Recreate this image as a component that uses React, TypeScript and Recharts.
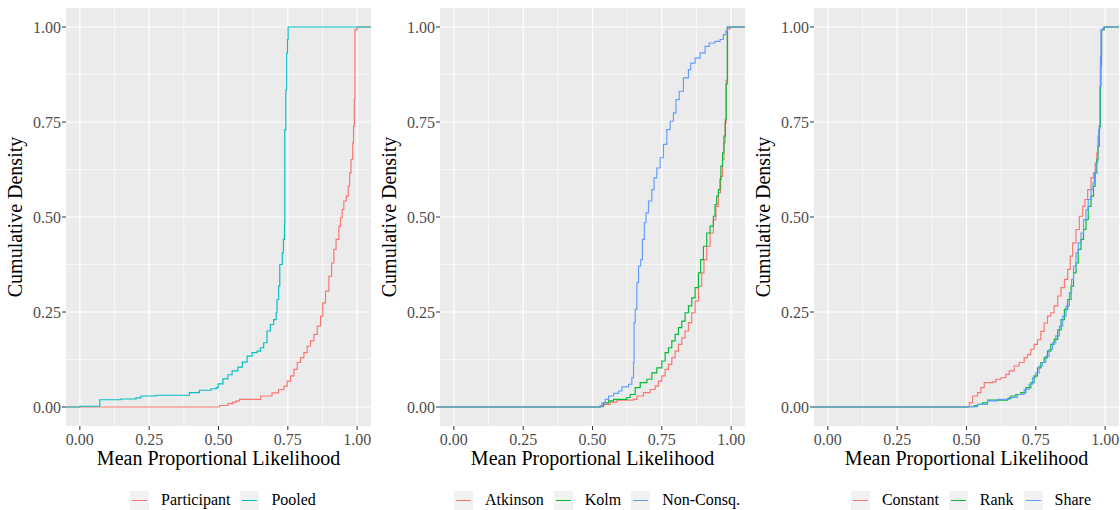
import React from 'react';
import { LineChart, Line, XAxis, YAxis, CartesianGrid, Legend } from 'recharts';

const FONT = '"Liberation Serif", "DejaVu Serif", serif';

const X_TICKS = [0, 0.25, 0.5, 0.75, 1];
const Y_TICKS = [0, 0.25, 0.5, 0.75, 1];
const MINOR_BREAKS = [0.125, 0.375, 0.625, 0.875];
const DOMAIN: [number, number] = [-0.05, 1.05];

const X_TITLE = 'Mean Proportional Likelihood';
const Y_TITLE = 'Cumulative Density';

// Empirical CDF step points: [likelihood, cumulative share]
const participant: [number, number][] = [
  [-0.05, 0], [0.504, 0.004], [0.534, 0.009], [0.552, 0.013], [0.564, 0.016], [0.576, 0.02],
  [0.652, 0.029], [0.693, 0.037], [0.717, 0.046], [0.736, 0.055], [0.748, 0.068], [0.76, 0.082],
  [0.772, 0.099], [0.784, 0.117], [0.796, 0.13], [0.808, 0.143], [0.82, 0.16], [0.832, 0.174],
  [0.844, 0.191], [0.856, 0.213], [0.868, 0.239], [0.876, 0.274], [0.886, 0.305], [0.898, 0.344],
  [0.908, 0.379], [0.916, 0.415], [0.924, 0.441], [0.934, 0.476], [0.94, 0.498], [0.946, 0.52],
  [0.952, 0.542], [0.961, 0.555], [0.968, 0.581], [0.973, 0.616], [0.978, 0.651], [0.984, 0.695],
  [0.987, 0.739], [0.99, 0.809], [0.992, 0.993], [1.0, 1.0], [1.05, 1.0],
];

const pooled: [number, number][] = [
  [-0.05, 0], [0.0, 0.002], [0.072, 0.019], [0.148, 0.021], [0.202, 0.024], [0.22, 0.029],
  [0.275, 0.031], [0.395, 0.038], [0.431, 0.044], [0.473, 0.048], [0.492, 0.051], [0.499, 0.061],
  [0.516, 0.074], [0.534, 0.085], [0.549, 0.095], [0.57, 0.105], [0.586, 0.118], [0.603, 0.134],
  [0.621, 0.143], [0.639, 0.147], [0.651, 0.156], [0.663, 0.169], [0.675, 0.2], [0.687, 0.217],
  [0.699, 0.23], [0.708, 0.248], [0.711, 0.283], [0.717, 0.318], [0.721, 0.375], [0.73, 0.406],
  [0.734, 0.441], [0.738, 0.48], [0.739, 0.73], [0.743, 0.835], [0.746, 0.932], [0.749, 0.967],
  [0.751, 1.0], [1.05, 1.0],
];

const atkinson: [number, number][] = [
  [-0.05, 0], [0.528, 0.001], [0.54, 0.007], [0.564, 0.013], [0.588, 0.018], [0.648, 0.02],
  [0.66, 0.029], [0.684, 0.038], [0.708, 0.046], [0.726, 0.055], [0.738, 0.068], [0.75, 0.082],
  [0.762, 0.099], [0.774, 0.112], [0.786, 0.13], [0.798, 0.147], [0.81, 0.165], [0.822, 0.182],
  [0.834, 0.2], [0.846, 0.222], [0.858, 0.248], [0.87, 0.279], [0.882, 0.318], [0.894, 0.353],
  [0.902, 0.388], [0.912, 0.423], [0.924, 0.458], [0.936, 0.493], [0.945, 0.528], [0.954, 0.564],
  [0.962, 0.607], [0.969, 0.651], [0.974, 0.695], [0.978, 0.748], [0.982, 0.86], [0.987, 0.995],
  [0.996, 1.0], [1.05, 1.0],
];

const kolm: [number, number][] = [
  [-0.05, 0], [0.528, 0.003], [0.54, 0.011], [0.558, 0.016], [0.576, 0.02], [0.624, 0.025],
  [0.636, 0.033], [0.654, 0.051], [0.672, 0.064], [0.696, 0.073], [0.714, 0.09], [0.732, 0.103],
  [0.75, 0.121], [0.762, 0.143], [0.774, 0.156], [0.786, 0.174], [0.798, 0.191], [0.81, 0.209],
  [0.822, 0.226], [0.834, 0.248], [0.846, 0.266], [0.858, 0.287], [0.87, 0.314], [0.882, 0.353],
  [0.89, 0.388], [0.9, 0.423], [0.912, 0.458], [0.924, 0.476], [0.936, 0.502], [0.942, 0.533],
  [0.948, 0.555], [0.954, 0.572], [0.96, 0.599], [0.963, 0.634], [0.969, 0.669], [0.974, 0.713],
  [0.979, 0.756], [0.982, 0.85], [0.986, 1.0], [1.05, 1.0],
];

const nonConsq: [number, number][] = [
  [-0.05, 0], [0.528, 0.004], [0.534, 0.011], [0.546, 0.02], [0.558, 0.029], [0.576, 0.036],
  [0.594, 0.042], [0.606, 0.053], [0.63, 0.06], [0.642, 0.077], [0.648, 0.117], [0.65, 0.222],
  [0.654, 0.257], [0.66, 0.327], [0.666, 0.371], [0.674, 0.388], [0.68, 0.441], [0.687, 0.485],
  [0.693, 0.511], [0.702, 0.542], [0.714, 0.572], [0.722, 0.603], [0.732, 0.629], [0.744, 0.656],
  [0.756, 0.691], [0.768, 0.73], [0.78, 0.752], [0.792, 0.774], [0.801, 0.809], [0.813, 0.831],
  [0.828, 0.866], [0.846, 0.888], [0.854, 0.905], [0.87, 0.918], [0.888, 0.932], [0.906, 0.949],
  [0.921, 0.958], [0.942, 0.962], [0.96, 0.967], [0.972, 0.98], [0.981, 0.989], [0.986, 1.0],
  [1.05, 1.0],
];

const constant: [number, number][] = [
  [-0.05, 0], [0.498, 0.001], [0.51, 0.011], [0.522, 0.029], [0.54, 0.038], [0.552, 0.051],
  [0.564, 0.064], [0.594, 0.066], [0.606, 0.073], [0.624, 0.077], [0.642, 0.086], [0.654, 0.095],
  [0.672, 0.108], [0.69, 0.117], [0.708, 0.13], [0.72, 0.138], [0.732, 0.152], [0.744, 0.165],
  [0.756, 0.177], [0.768, 0.199], [0.78, 0.221], [0.792, 0.239], [0.804, 0.248], [0.816, 0.266],
  [0.829, 0.292], [0.841, 0.314], [0.853, 0.336], [0.865, 0.362], [0.874, 0.397], [0.883, 0.432],
  [0.895, 0.467], [0.907, 0.502], [0.919, 0.528], [0.927, 0.546], [0.937, 0.572], [0.949, 0.603],
  [0.958, 0.616], [0.964, 0.642], [0.97, 0.669], [0.974, 0.713], [0.979, 0.739], [0.983, 0.897],
  [0.987, 0.993], [0.997, 1.0], [1.05, 1.0],
];

const rank: [number, number][] = [
  [-0.05, 0], [0.504, 0.001], [0.528, 0.004], [0.54, 0.007], [0.558, 0.011], [0.576, 0.018],
  [0.648, 0.022], [0.66, 0.029], [0.678, 0.033], [0.696, 0.038], [0.714, 0.051], [0.732, 0.064],
  [0.744, 0.082], [0.756, 0.103], [0.768, 0.117], [0.78, 0.13], [0.792, 0.147], [0.804, 0.165],
  [0.816, 0.178], [0.829, 0.203], [0.841, 0.23], [0.853, 0.257], [0.865, 0.283], [0.877, 0.318],
  [0.886, 0.353], [0.895, 0.379], [0.903, 0.415], [0.913, 0.441], [0.922, 0.467], [0.931, 0.493],
  [0.939, 0.528], [0.949, 0.555], [0.958, 0.581], [0.964, 0.616], [0.97, 0.651], [0.974, 0.686],
  [0.979, 0.739], [0.983, 0.844], [0.985, 0.923], [0.987, 0.993], [0.997, 1.0], [1.05, 1.0],
];

const share: [number, number][] = [
  [-0.05, 0], [0.504, 0.001], [0.54, 0.007], [0.576, 0.016], [0.612, 0.02], [0.654, 0.025],
  [0.684, 0.033], [0.708, 0.046], [0.726, 0.06], [0.738, 0.077], [0.75, 0.09], [0.762, 0.108],
  [0.774, 0.117], [0.786, 0.134], [0.798, 0.152], [0.81, 0.169], [0.822, 0.187], [0.835, 0.213],
  [0.847, 0.239], [0.859, 0.266], [0.871, 0.301], [0.879, 0.336], [0.886, 0.371], [0.895, 0.406],
  [0.903, 0.432], [0.913, 0.458], [0.922, 0.493], [0.931, 0.519], [0.939, 0.546], [0.949, 0.572],
  [0.956, 0.59], [0.961, 0.616], [0.967, 0.642], [0.973, 0.686], [0.977, 0.73], [0.981, 0.844],
  [0.983, 0.923], [0.985, 0.993], [0.991, 0.997], [0.997, 1.0], [1.05, 1.0],
];

type SeriesDef = { name: string; color: string; points: [number, number][] };

const panelSeries: SeriesDef[][] = [
  [
    { name: 'Participant', color: '#F8766D', points: participant },
    { name: 'Pooled', color: '#00BFC4', points: pooled },
  ],
  [
    { name: 'Atkinson', color: '#F8766D', points: atkinson },
    { name: 'Kolm', color: '#00BA38', points: kolm },
    { name: 'Non-Consq.', color: '#619CFF', points: nonConsq },
  ],
  [
    { name: 'Constant', color: '#F8766D', points: constant },
    { name: 'Rank', color: '#00BA38', points: rank },
    { name: 'Share', color: '#619CFF', points: share },
  ],
];

const panelLefts = [0, 374, 748];

const fmt = (v: number) => v.toFixed(2);

const xTitle = (props: any) => {
  const vb = props.viewBox || {};
  return (
    <text
      x={vb.x + vb.width / 2}
      y={vb.y + 38.5}
      textAnchor="middle"
      fontFamily={FONT}
      fontSize={20}
      fill="#000000"
    >
      {X_TITLE}
    </text>
  );
};

const yTitle = (props: any) => {
  const vb = props.viewBox || {};
  const x = vb.x + 21.5;
  const y = vb.y + vb.height / 2;
  return (
    <text
      x={x}
      y={y}
      transform={`rotate(-90, ${x}, ${y})`}
      textAnchor="middle"
      fontFamily={FONT}
      fontSize={20}
      fill="#000000"
    >
      {Y_TITLE}
    </text>
  );
};

function LegendRow({ series }: { series: SeriesDef[] }) {
  return (
    <div
      style={{
        display: 'flex',
        justifyContent: 'center',
        alignItems: 'center',
        height: 20,
        fontFamily: FONT,
        fontSize: 16,
        color: '#000000',
      }}
    >
      {series.map((s, i) => (
        <div key={s.name} style={{ display: 'flex', alignItems: 'center', marginLeft: i ? 10 : 0 }}>
          <div style={{ position: 'relative', width: 19, height: 19, background: '#F2F2F2' }}>
            <div
              style={{
                position: 'absolute',
                left: 2,
                top: 9,
                width: 15,
                height: 1,
                background: s.color,
              }}
            />
          </div>
          <span style={{ marginLeft: 12, lineHeight: '20px', whiteSpace: 'nowrap' }}>{s.name}</span>
        </div>
      ))}
    </div>
  );
}

function Panel({ series, left }: { series: SeriesDef[]; left: number }) {
  return (
    <div style={{ position: 'absolute', left, top: 0 }}>
      <LineChart width={374} height={510} margin={{ top: 8, right: 3, bottom: 0, left: 0 }}>
        <CartesianGrid
          fill="#EBEBEB"
          stroke="#FFFFFF"
          strokeWidth={0.6}
          horizontalValues={MINOR_BREAKS}
          verticalValues={MINOR_BREAKS}
        />
        <CartesianGrid
          stroke="#FFFFFF"
          strokeWidth={1.2}
          horizontalValues={Y_TICKS}
          verticalValues={X_TICKS}
        />
        <XAxis
          type="number"
          dataKey="x"
          domain={DOMAIN}
          ticks={X_TICKS}
          interval={0}
          allowDataOverflow
          tickFormatter={fmt}
          axisLine={false}
          tickLine={{ stroke: '#333333' }}
          tickSize={4}
          tickMargin={4}
          tick={{ fill: '#4D4D4D', fontSize: 16, fontFamily: FONT }}
          height={64}
          label={{ content: xTitle }}
        />
        <YAxis
          type="number"
          domain={DOMAIN}
          ticks={Y_TICKS}
          interval={0}
          allowDataOverflow
          tickFormatter={fmt}
          axisLine={false}
          tickLine={{ stroke: '#333333' }}
          tickSize={4}
          tickMargin={1}
          tick={{ fill: '#4D4D4D', fontSize: 16, fontFamily: FONT }}
          width={66}
          label={{ content: yTitle }}
        />
        {series.map((s) => (
          <Line
            key={s.name}
            name={s.name}
            data={s.points.map(([x, y]) => ({ x, y }))}
            dataKey="y"
            type="stepAfter"
            stroke={s.color}
            strokeWidth={1.15}
            dot={false}
            activeDot={false}
            isAnimationActive={false}
          />
        ))}
        <Legend
          verticalAlign="bottom"
          content={() => <LegendRow series={series} />}
          wrapperStyle={{ left: 70, width: 306, bottom: 0 }}
        />
      </LineChart>
    </div>
  );
}

export default function App() {
  return (
    <div
      style={{
        position: 'absolute',
        left: 0,
        top: 0,
        width: 1120,
        height: 510,
        overflow: 'hidden',
        background: '#FFFFFF',
      }}
    >
      {panelSeries.map((series, i) => (
        <Panel key={i} series={series} left={panelLefts[i]} />
      ))}
    </div>
  );
}
